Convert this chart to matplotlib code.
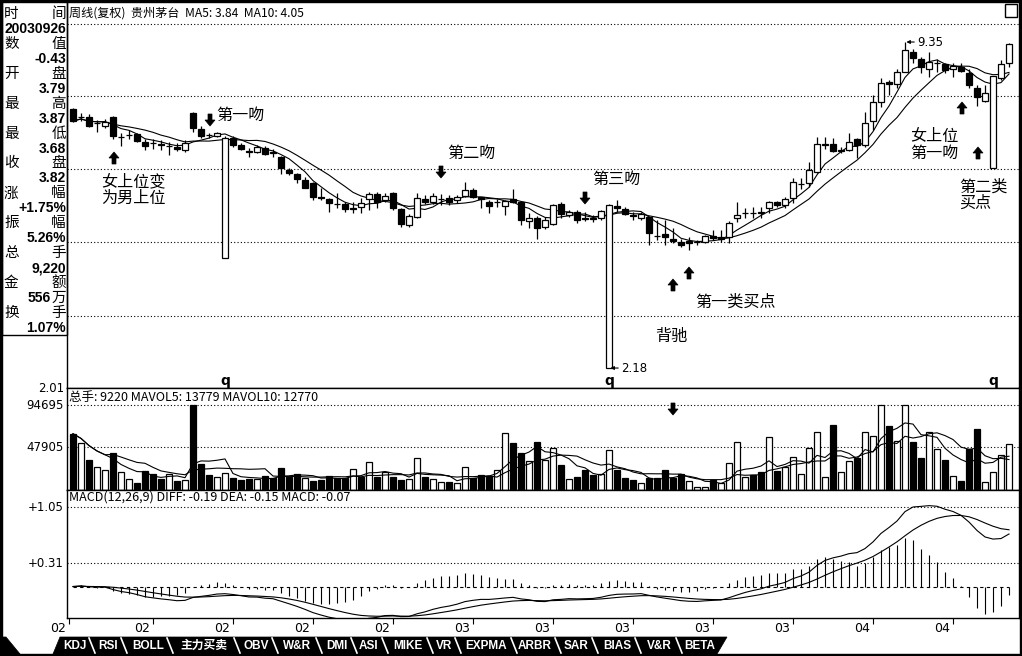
import numpy as np
import pandas as pd
import matplotlib
matplotlib.use("Agg")
import matplotlib.pyplot as plt
from matplotlib.patches import Polygon, Rectangle
import matplotlib.transforms as mtransforms
from matplotlib.ticker import NullLocator

CJK = ['Noto Sans CJK SC', 'DejaVu Sans']
LAT = ['Liberation Sans', 'Noto Sans CJK SC']
plt.rcParams['font.family'] = CJK

# ---------------- data (weekly, adjusted prices) ----------------
opens = [6.93, 6.68, 6.69, 6.50, 6.43, 6.69, 6.12, 6.17, 6.20, 5.99,
         5.96, 5.92, 5.87, 5.85, 5.77, 6.81, 6.34, 6.17, 6.15, 3.56,
         6.10, 5.91, 5.74, 5.72, 5.82, 5.71, 5.60, 5.28, 5.19, 5.05,
         4.98, 4.68, 4.64, 4.54, 4.54, 4.45, 4.47, 4.64, 4.75, 4.62,
         4.77, 4.43, 4.13, 4.28, 4.64, 4.58, 4.63, 4.66, 4.62, 4.70,
         4.83, 4.68, 4.58, 4.57, 4.49, 4.64, 4.58, 4.20, 4.26, 4.09,
         4.15, 4.54, 4.31, 4.37, 4.26, 4.26, 4.26, 2.18, 4.49, 4.43,
         4.31, 4.26, 4.28, 3.94, 3.97, 3.88, 3.83, 3.84, 3.82, 3.83,
         3.93, 3.91, 3.91, 4.26, 4.35, 4.36, 4.37, 4.45, 4.58, 4.52,
         4.66, 4.96, 4.98, 5.23, 5.91, 5.93, 5.75, 5.77, 6.07, 5.91,
         6.57, 7.16, 7.82, 7.76, 8.18, 8.94, 8.67, 8.29, 8.50, 8.48,
         8.29, 8.36, 8.14, 7.62, 7.19, 5.33, 7.96, 8.52]
closes = [6.57, 6.69, 6.43, 6.51, 6.54, 6.15, 6.13, 6.18, 6.01, 5.88,
          5.95, 5.91, 5.88, 5.80, 5.96, 6.37, 6.15, 6.16, 6.23, 6.10,
          5.91, 5.80, 5.73, 5.85, 5.67, 5.70, 5.33, 5.21, 5.07, 4.88,
          4.68, 4.66, 4.56, 4.53, 4.43, 4.43, 4.56, 4.75, 4.58, 4.70,
          4.45, 4.15, 4.29, 4.66, 4.58, 4.70, 4.64, 4.58, 4.68, 4.83,
          4.68, 4.64, 4.49, 4.58, 4.60, 4.58, 4.22, 4.26, 4.08, 4.22,
          4.52, 4.33, 4.37, 4.22, 4.25, 4.25, 4.39, 4.52, 4.45, 4.33,
          4.30, 4.33, 3.99, 3.93, 3.91, 3.85, 3.78, 3.81, 3.83, 3.93,
          3.90, 3.88, 4.17, 4.31, 4.36, 4.35, 4.36, 4.58, 4.52, 4.64,
          5.01, 4.97, 5.28, 5.93, 5.92, 5.75, 5.76, 5.99, 5.91, 6.51,
          7.16, 7.79, 7.76, 8.18, 9.02, 8.71, 8.36, 8.55, 8.51, 8.25,
          8.40, 8.21, 7.72, 7.32, 7.45, 8.03, 8.48, 9.26]
highs = [6.95, 6.81, 6.78, 6.60, 6.63, 6.72, 6.23, 6.31, 6.23, 6.07,
         6.07, 6.04, 5.99, 5.96, 6.04, 6.83, 6.43, 6.23, 6.26, 6.15,
         6.15, 5.96, 5.82, 5.91, 5.88, 5.80, 5.62, 5.33, 5.21, 5.12,
         5.01, 4.87, 4.66, 4.77, 4.58, 4.58, 4.66, 4.79, 4.79, 4.77,
         4.79, 4.45, 4.33, 4.77, 4.73, 4.77, 4.75, 4.73, 4.73, 5.01,
         4.87, 4.68, 4.62, 4.64, 4.62, 4.85, 4.60, 4.35, 4.30, 4.28,
         4.54, 4.58, 4.41, 4.41, 4.37, 4.31, 4.41, 4.54, 4.62, 4.47,
         4.37, 4.37, 4.29, 4.22, 4.22, 4.08, 3.88, 3.91, 3.86, 3.95,
         4.04, 4.04, 4.20, 4.58, 4.45, 4.47, 4.47, 4.60, 4.60, 4.69,
         5.10, 5.10, 5.47, 6.12, 6.12, 6.10, 5.85, 6.23, 6.10, 6.84,
         7.39, 7.96, 7.89, 8.29, 9.35, 9.06, 8.75, 8.94, 8.67, 8.52,
         8.52, 8.52, 8.29, 7.72, 7.72, 8.03, 8.63, 9.33]
lows = [6.55, 6.57, 6.40, 6.26, 6.37, 6.07, 5.88, 6.07, 5.99, 5.77,
        5.80, 5.77, 5.65, 5.75, 5.72, 6.26, 6.10, 6.10, 6.12, 3.56,
        5.85, 5.77, 5.60, 5.70, 5.65, 5.60, 5.19, 5.17, 4.98, 4.87,
        4.62, 4.62, 4.37, 4.45, 4.37, 4.35, 4.35, 4.41, 4.45, 4.58,
        4.41, 4.09, 4.09, 4.26, 4.54, 4.54, 4.52, 4.52, 4.56, 4.68,
        4.66, 4.45, 4.35, 4.47, 4.31, 4.56, 4.13, 4.08, 3.88, 4.06,
        4.13, 4.26, 4.28, 4.17, 4.20, 4.18, 4.22, 2.18, 4.37, 4.31,
        4.22, 4.22, 3.78, 3.86, 3.78, 3.81, 3.74, 3.69, 3.78, 3.81,
        3.86, 3.83, 3.81, 4.18, 4.26, 4.26, 4.26, 4.35, 4.47, 4.45,
        4.56, 4.85, 4.89, 5.21, 5.80, 5.72, 5.70, 5.75, 5.57, 5.85,
        6.31, 7.00, 7.39, 7.62, 8.18, 8.52, 8.14, 8.00, 8.18, 8.14,
        8.00, 8.18, 7.62, 7.03, 7.16, 5.33, 7.89, 8.36]
volumes = [62900, 52400, 33700, 25500, 22500, 41200, 19800, 12000, 7500, 21000,
           17600, 12400, 17600, 10100, 11200, 94695, 28800, 16500, 15000, 18700,
           13100, 10900, 12400, 12400, 15300, 13100, 24300, 14200, 17600, 13800,
           10100, 11200, 15300, 13800, 13800, 23200, 14200, 31100, 15000, 19800,
           14200, 11200, 12000, 35600, 14200, 12000, 9400, 8600, 7500, 25500,
           13100, 16500, 15300, 22100, 63600, 52400, 41200, 32600, 53900, 33700,
           47500, 27700, 12000, 14200, 22500, 16500, 17600, 44200, 22500, 13100,
           10900, 7500, 13100, 13100, 22500, 13100, 17600, 10500, 3700, 3700,
           10900, 7500, 29900, 53500, 14200, 16500, 19800, 59100, 21300, 26200,
           37400, 17600, 47500, 64800, 14200, 73000, 19800, 32600, 35600, 64800,
           59900, 94695, 71100, 54300, 94695, 53500, 35600, 64800, 45700, 33700,
           16100, 10100, 46000, 68100, 9400, 20600, 39300, 51300]
# U = hollow (up) volume bar, D = filled (down) volume bar
vol_dir = ("DUDUUDUUDD" "DDUDUDDDUU" "DDDUDDDDDU" "DDDDDUDUDU"
           "DDUUDUUDUU" "DDDUUDDUDU" "UDUDDDUUDD" "DUDDDDDUUU"
           "DUUUUDDUDU" "UUUUUDUUDU" "UUDUUDDUUD" "UDDDUUUU")

date_tick_bars = [-0.5, 10, 20, 30, 40, 50, 60, 70, 80, 90, 100, 110]
date_tick_labels = ['02', '02', '02', '02', '02', '03', '03', '03', '03', '03', '04', '04']
ex_rights_bars = [19, 67, 115]

price_axis_labels = ['2.01']
vol_axis_values = [94695, 47905]
macd_axis_values = [1.05, 0.31]

title_main = '周线(复权)  贵州茅台  MA5: 3.84  MA10: 4.05'
title_vol = '总手: 9220 MAVOL5: 13779 MAVOL10: 12770'
title_macd = 'MACD(12,26,9) DIFF: -0.19 DEA: -0.15 MACD: -0.07'

info_rows = [('时', '间', '20030926'), ('数', '值', '-0.43'), ('开', '盘', '3.79'),
             ('最', '高', '3.87'), ('最', '低', '3.68'), ('收', '盘', '3.82'),
             ('涨', '幅', '+1.75%'), ('振', '幅', '5.26%'), ('总', '手', '9,220'),
             ('金', '额', '556万'), ('换', '手', '1.07%')]

tab_labels = ["KDJ", "RSI", "BOLL", "主力买卖", "OBV", "W&R", "DMI", "ASI", "MIKE",
              "VR", "EXPMA", "ARBR", "SAR", "BIAS", "V&R", "BETA"]

# ---------------- indicators ----------------
n = len(closes)
x = np.arange(n)
cs = pd.Series(closes, dtype=float)
ma5 = cs.rolling(5, min_periods=1).mean()
ma10 = cs.rolling(10, min_periods=1).mean()
vs = pd.Series(volumes, dtype=float)
mavol5 = vs.rolling(5, min_periods=1).mean()
mavol10 = vs.rolling(10, min_periods=1).mean()
ema12 = cs.ewm(span=12, adjust=False).mean()
ema26 = cs.ewm(span=26, adjust=False).mean()
diff = ema12 - ema26
dea = diff.ewm(span=9, adjust=False).mean()
macd = 2 * (diff - dea)

# ---------------- figure ----------------
W, H = 1022, 656
fig = plt.figure(figsize=(W / 100, H / 100), dpi=100)
fig.patch.set_facecolor('white')


def ax_px(l, t, r, b):
    return fig.add_axes([l / W, 1 - b / H, (r - l) / W, (b - t) / H])


def ptxt(px, py, s, **kw):
    return fig.text(px / W, 1 - py / H, s, **kw)


X0, X1 = 67, 1019
ax_k = ax_px(X0, 2, X1, 388)
ax_v = ax_px(X0, 388, X1, 490)
ax_m = ax_px(X0, 490, X1, 618)
xlim = ((X0 - 73) / 8.0, (X1 - 73) / 8.0)

for ax in (ax_k, ax_v, ax_m):
    ax.set_xlim(*xlim)
    ax.set_facecolor('white')
    for sp in ax.spines.values():
        sp.set_linewidth(1.0)
        sp.set_color('black')
    ax.tick_params(which='both', left=False, labelleft=False, bottom=False,
                   labelbottom=False, right=False, top=False)

DOT = (0, (1, 2))

# ---- price panel ----
ax_k.set_yscale('log')
ax_k.set_ylim(1.994, 11.18)
ax_k.yaxis.set_minor_locator(NullLocator())
ax_k.set_yticks([])
for f in [0.943, 0.7565, 0.567, 0.378, 0.1865]:
    ax_k.plot([0, 1], [f, f], transform=ax_k.transAxes, color='black', lw=0.8, ls=DOT, zorder=0)

o = np.array(opens); c = np.array(closes)
bot = np.minimum(o, c); top = np.maximum(o, c)
upc = c >= o
ax_k.plot(x, ma5, color='black', lw=0.8, zorder=1)
ax_k.plot(x, ma10, color='black', lw=0.8, zorder=1)
ax_k.vlines(x, lows, highs, color='black', lw=0.9, zorder=2)
ax_k.bar(x, np.maximum(top - bot, 0.004), bottom=bot, width=0.72,
         color=['white' if u else 'black' for u in upc], edgecolor='black',
         linewidth=0.9, zorder=3)

imax = int(np.argmax(highs)); imin = int(np.argmin(lows))
for idx, val in ((imax, highs[imax]), (imin, lows[imin])):
    ax_k.annotate(f'{val:.2f}', xy=(idx, val), xytext=(12, 0), textcoords='offset pixels',
                  ha='left', va='center', fontsize=8.5, family='DejaVu Sans',
                  arrowprops=dict(arrowstyle='-|>', lw=0.8, color='black',
                                  mutation_scale=5, shrinkA=0, shrinkB=1))

qtr = mtransforms.blended_transform_factory(ax_k.transData, ax_k.transAxes)
for b in ex_rights_bars:
    ax_k.text(b, 0.018, 'q', transform=qtr, ha='center', va='center',
              fontsize=10, fontweight='bold', family='DejaVu Sans')

# ---- volume panel ----
ax_v.set_ylim(0, 114000)
ax_v.set_yticks([])
for v in vol_axis_values:
    ax_v.axhline(v, color='black', lw=0.8, ls=DOT, zorder=0)
ax_v.bar(x, volumes, width=0.8, color=['white' if d == 'U' else 'black' for d in vol_dir],
         edgecolor='black', linewidth=0.9, zorder=2)
ax_v.plot(x, mavol5, color='black', lw=0.8, zorder=3)
ax_v.plot(x, mavol10, color='black', lw=0.8, zorder=3)

# ---- MACD panel ----
ax_m.set_ylim(-0.416, 1.275)
ax_m.set_yticks([])
for v in macd_axis_values:
    ax_m.axhline(v, color='black', lw=0.8, ls=DOT, zorder=0)
ax_m.plot([x[0], x[-1]], [0, 0], color='black', lw=0.8, ls=(0, (3, 3)), zorder=1)
ax_m.vlines(x, 0, macd, color='black', lw=0.8, zorder=2)
ax_m.plot(x, diff, color='black', lw=0.8, zorder=3)
ax_m.plot(x, dea, color='black', lw=0.8, zorder=3)

ax_m.set_xticks(date_tick_bars)
ax_m.tick_params(axis='x', which='major', bottom=True, direction='out', length=4, width=0.8)
dtr = mtransforms.offset_copy(
    mtransforms.blended_transform_factory(ax_m.transData, ax_m.transAxes),
    fig=fig, x=-3, y=-10, units='dots')
for b, lab in zip(date_tick_bars, date_tick_labels):
    ax_m.text(b, 0, lab, transform=dtr, ha='right', va='center', fontsize=9,
              family='DejaVu Sans')

# ---- left axis labels ----
def left_label(ax, yv, s, yaxes=False):
    if yaxes:
        base = ax.transAxes
    else:
        base = mtransforms.blended_transform_factory(ax.transAxes, ax.transData)
    tr = mtransforms.offset_copy(base, fig=fig, x=-3, y=0, units='dots')
    ax.text(0, yv, s, transform=tr, ha='right', va='center', fontsize=8.5,
            family='DejaVu Sans', clip_on=False)

left_label(ax_k, 0.0, price_axis_labels[0], yaxes=True)
for v in vol_axis_values:
    left_label(ax_v, v, f'{v}')
for v in macd_axis_values:
    left_label(ax_m, v, f'+{v:.2f}')

# ---- titles ----
ptxt(69, 13, title_main, fontsize=8.7, ha='left', va='center', family=CJK)
ptxt(69, 397, title_vol, fontsize=9, ha='left', va='center', family=CJK)
ptxt(69, 497, title_macd, fontsize=9, ha='left', va='center', family=CJK)

# ---- info panel ----
fig.add_artist(Rectangle((2 / W, 1 - 335 / H), 65 / W, 333 / H, transform=fig.transFigure,
                         fill=False, edgecolor='black', lw=1.0))
for k, (a, b2, val) in enumerate(info_rows):
    yl = 14 + 14.95 * (2 * k)
    yv = 14 + 14.95 * (2 * k + 1)
    ptxt(4, yl, a, fontsize=10.5, ha='left', va='center', family=CJK)
    ptxt(66, yl, b2, fontsize=10.5, ha='right', va='center', family=CJK)
    if val.endswith('万'):
        ptxt(51, yv, val[:-1], fontsize=10, ha='right', va='center', family=LAT, fontweight='bold')
        ptxt(66, yv, '万', fontsize=10.5, ha='right', va='center', family=CJK)
    else:
        ptxt(66, yv, val, fontsize=10, ha='right', va='center', family=LAT, fontweight='bold')

# ---- annotations ----
def arrow(cx, cy, down=True, w=10, h=12, sw=4):
    s = 1 if down else -1
    pts = [(cx - sw / 2, cy - s * h / 2), (cx + sw / 2, cy - s * h / 2), (cx + sw / 2, cy),
           (cx + w / 2, cy), (cx, cy + s * h / 2), (cx - w / 2, cy), (cx - sw / 2, cy)]
    pts = [(px / W, 1 - py / H) for px, py in pts]
    fig.add_artist(Polygon(pts, closed=True, transform=fig.transFigure,
                           facecolor='black', edgecolor='black', lw=0.5))

for cx, cy in [(210, 120), (441, 172), (585, 198), (673, 409)]:
    arrow(cx, cy, down=True)
for cx, cy in [(114, 158), (673, 285), (689, 273), (962, 108), (978, 153)]:
    arrow(cx, cy, down=False)

AN = dict(fontsize=11.6, ha='left', va='center', family=CJK)
ptxt(216, 115, '第一吻', **AN)
ptxt(101, 182, '女上位变', **AN)
ptxt(101, 198, '为男上位', **AN)
ptxt(447, 153, '第二吻', **AN)
ptxt(592, 179, '第三吻', **AN)
ptxt(655, 336, '背驰', **AN)
ptxt(695, 302, '第一类买点', **AN)
ptxt(910, 137, '女上位', **AN)
ptxt(910, 153, '第一吻', **AN)
ptxt(959, 187, '第二类', **AN)
ptxt(959, 203, '买点', **AN)

# ---- top-right button ----
fig.add_artist(Rectangle((1005 / W, 1 - 17 / H), 12 / W, 13 / H, transform=fig.transFigure,
                         facecolor='white', edgecolor='black', lw=1.0))

# ---- bottom tab strip ----
def figpoly(pts, **kw):
    fig.add_artist(Polygon([(px / W, 1 - py / H) for px, py in pts], closed=True,
                           transform=fig.transFigure, **kw))

figpoly([(53, 654), (60, 637), (727, 637), (717, 654)], facecolor='black', edgecolor='black', lw=0.5)
figpoly([(0, 637), (6, 637), (20, 654), (0, 654)], facecolor='black', edgecolor='black', lw=0.5)
tab_centers = [75, 108, 148, 204, 256, 297, 337, 369, 408, 444, 486, 535, 576, 617, 659, 700]
sep_x = [92, 124, 170, 237, 275, 319, 354, 385, 430, 458, 514, 558, 595, 638, 679]
for sx in sep_x:
    fig.add_artist(plt.Line2D([(sx - 3) / W, (sx + 3) / W], [1 - 638 / H, 1 - 653 / H],
                              transform=fig.transFigure, color='white', lw=1.2))
for cx, lab in zip(tab_centers, tab_labels):
    ptxt(cx, 646, lab, fontsize=8.5, ha='center', va='center', color='white',
         fontweight='bold', family=LAT)

# ---- outer frame ----
fig.add_artist(Rectangle((0, 0), 2 / W, 1, transform=fig.transFigure, color='black'))
fig.add_artist(Rectangle((0, 0), 1, 2 / H, transform=fig.transFigure, color='black'))
fig.add_artist(Rectangle((1020 / W, 0), 2 / W, 1, transform=fig.transFigure, color='black'))
fig.add_artist(Rectangle((0, 1 - 1 / H), 1, 1 / H, transform=fig.transFigure, color='black'))

fig.savefig('out.png', dpi=100)
